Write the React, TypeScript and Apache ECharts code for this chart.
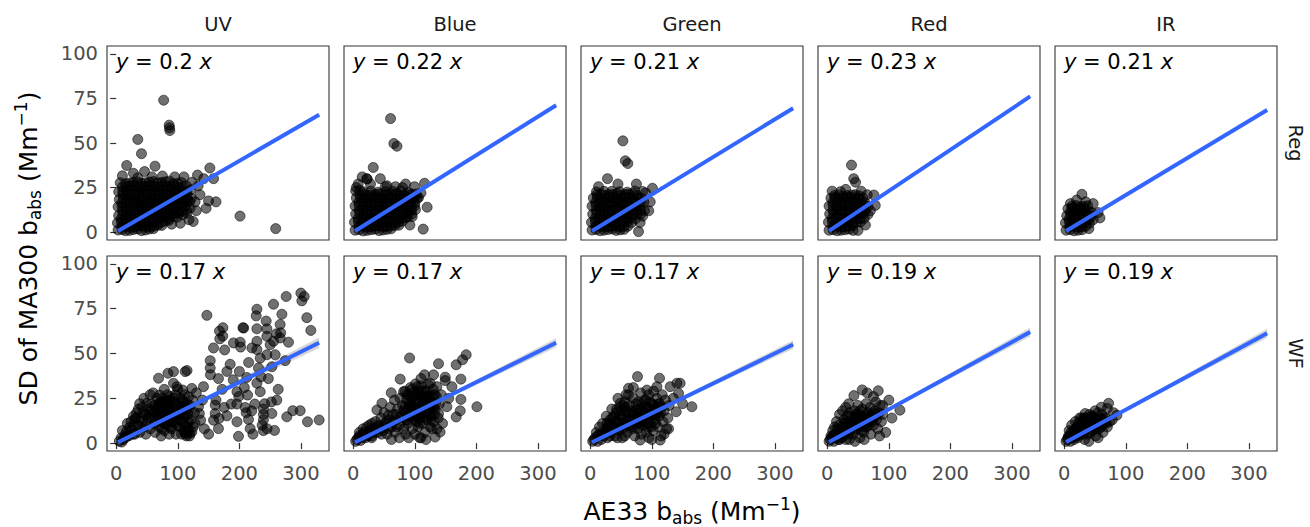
import React, { useEffect, useRef } from "react";
import * as echarts from "echarts";

const columns = ["UV", "Blue", "Green", "Red", "IR"];
const rowNames = ["Reg", "WF"];
const slopeText = [
  ["0.2", "0.22", "0.21", "0.23", "0.21"],
  ["0.17", "0.17", "0.17", "0.19", "0.19"],
];
const slopes = [
  [0.2, 0.216, 0.211, 0.231, 0.208],
  [0.17, 0.17, 0.167, 0.188, 0.186],
];
const slopeCI = [
  [0.0025, 0.003, 0.003, 0.003, 0.003],
  [0.009, 0.0075, 0.007, 0.0075, 0.0075],
];
const fitRange = [3, 329.5];
const xTicks = [0, 100, 200, 300];
const yTicks = [0, 25, 50, 75, 100];
const xLimits = [-15, 345.5];
const yLimits = [-4.4, 104.4];

const regUV = [
  [3,1.2],[15,0.8],[28,1.5],[41,0.9],[54,1.8],
  [2,5.2],[14,4.6],[27,5.4],[40,4.8],[53,5.6],[66,4.9],[79,6.1],
  [4,9.3],[17,9.8],[30,9.1],[43,10.2],[56,9.6],[69,9.9],[82,9.2],[95,10.4],[108,9.8],
  [3,14.2],[16,13.6],[29,14.5],[42,13.9],[55,14.8],[68,13.7],[81,14.4],[94,13.8],[107,14.6],[120,13.5],
  [5,18.3],[18,18.9],[31,18.1],[44,18.7],[57,18.2],[70,19.1],[83,18.4],[96,18.8],[109,18.1],[122,19.0],
  [4,22.6],[17,23.3],[30,22.8],[43,23.4],[56,22.7],[69,23.5],[82,22.9],[95,23.2],[108,22.6],[121,23.8],
  [15,27.2],[28,27.9],[41,27.4],[54,28.1],[67,27.6],[80,28.3],[93,27.1],[106,27.8],
  [9,3.1],[22,2.7],[35,3.4],[48,2.9],[61,3.3],[74,3.8],
  [8,7.4],[21,7.9],[34,7.2],[47,7.7],[60,7.3],[73,8.1],[86,7.6],[99,8.4],
  [10,12.1],[23,11.7],[36,12.3],[49,11.8],[62,12.4],[75,11.9],[88,12.2],[101,11.6],[114,12.5],
  [9,16.4],[22,16.9],[35,16.2],[48,16.7],[61,16.3],[74,16.8],[87,16.1],[100,16.6],[113,16.9],
  [11,21.2],[24,20.7],[37,21.4],[50,20.9],[63,21.3],[76,20.8],[89,21.5],[102,21.1],[115,20.6],
  [10,25.4],[23,25.9],[36,25.2],[49,25.8],[62,25.3],[75,25.7],[88,25.6],[101,25.1],[114,25.9],
  [9.5,1.5],[21.5,1],[34.5,1.8],[47.5,1.2],[60.5,2],
  [8.5,5.6],[20.5,5],[33.5,5.8],[46.5,5.1],[59.5,5.9],[72.5,5.3],[85.5,6.6],
  [10.5,9.6],[23.5,10.1],[36.5,9.4],[49.5,10.5],[62.5,9.9],[75.5,10.2],[88.5,9.5],[101.5,10.7],[114.5,10.6],
  [9.5,14.5],[22.5,13.9],[35.5,14.8],[48.5,14.2],[61.5,15.1],[74.5,14],[87.5,14.7],[100.5,14.1],[113.5,14.9],
  [11.5,18.6],[24.5,19.2],[37.5,18.4],[50.5,19],[63.5,18.5],[76.5,19.4],[89.5,18.7],[102.5,19.1],[115.5,18.4],
  [10.5,22.9],[23.5,23.6],[36.5,23.1],[49.5,23.7],[62.5,23],[75.5,23.8],[88.5,23.2],[101.5,23.5],[114.5,22.9],
  [21.5,27.5],[34.5,28.2],[47.5,27.7],[60.5,28.4],[73.5,27.9],[86.5,28.6],[99.5,27.4],
  [15.5,3.4],[28.5,3],[41.5,3.7],[54.5,3.2],[67.5,3.9],
  [14.5,7.7],[27.5,8.2],[40.5,7.5],[53.5,8],[66.5,7.6],[79.5,8.4],[92.5,8.9],
  [16.5,12.4],[29.5,12],[42.5,12.6],[55.5,12.1],[68.5,12.7],[81.5,12.2],[94.5,12.5],[107.5,11.9],
  [15.5,16.7],[28.5,17.2],[41.5,16.5],[54.5,17],[67.5,16.6],[80.5,17.1],[93.5,16.4],[106.5,16.9],[119.5,17.2],
  [17.5,21.5],[30.5,21],[43.5,21.7],[56.5,21.2],[69.5,21.6],[82.5,21.1],[95.5,21.8],[108.5,21.4],
  [16.5,25.7],[29.5,26.2],[42.5,25.5],[55.5,26.1],[68.5,25.6],[81.5,26],[94.5,25.9],[107.5,25.4],
  [6.5,27.7],[10,31.6],[28,33],[46,34],[17,37.4],[35,52],[41,44],[63,37],[77,74],[86,60],[87,57],[86.5,58.5],
  [123,28],[133,26],[136,21],[142,30],[150,17.5],[146,13.4],[152,36],[158,30],[162,17],[201,9],[259,2],
  [130,12],[125,6],[118,7],[110,31],[95,31],[75,31.5],[58,31],[35,30.5],[128,17],[132,32],[104,5],[90,4.5],
];

const regBlue = [
  [3,1.1],[16,0.7],[29,1.4],[42,0.9],[55,1.6],
  [2,5.6],[15,5.1],[28,5.8],[41,5.3],[54,5.9],[67,5.2],[80,6.2],
  [4,10.2],[17,9.7],[30,10.4],[43,9.8],[56,10.3],[69,9.6],[82,10.5],[95,10.1],
  [3,14.6],[16,14.1],[29,14.8],[42,14.3],[55,14.9],[68,14.2],[81,14.7],[94,14.4],
  [5,19.2],[18,18.7],[31,19.4],[44,18.9],[57,19.3],[70,18.6],[83,19.1],[96,18.8],[106,19.4],
  [4,23.1],[17,22.6],[40,22.4],[65,22.8],[90,22.2],
  [9,3.2],[22,2.8],[35,3.4],[48,2.9],[61,3.5],[74,3.9],
  [8,7.6],[21,7.2],[34,7.8],[47,7.3],[60,7.7],[73,7.4],[86,8.1],
  [10,12.2],[23,11.8],[36,12.4],[49,11.7],[62,12.3],[75,11.9],[88,12.1],[101,12.6],
  [9,16.7],[22,16.3],[35,16.8],[48,16.2],[61,16.6],[74,16.4],[87,16.9],[100,16.5],
  [11,21.1],[24,20.7],[37,21.2],[50,20.8],[63,21.3],[76,20.6],[89,21.0],[102,21.4],
  [9.5,1.4],[22.5,1],[35.5,1.7],[48.5,1.2],[61.5,1.9],
  [8.5,5.9],[21.5,5.4],[34.5,6.1],[47.5,5.6],[60.5,6.2],[73.5,5.5],
  [10.5,10.5],[23.5,10],[36.5,10.7],[49.5,10.1],[62.5,10.6],[75.5,9.9],[88.5,10.8],
  [9.5,14.9],[22.5,14.4],[35.5,15.1],[48.5,14.6],[61.5,15.2],[74.5,14.5],[87.5,15],[99.5,14.7],
  [11.5,19.5],[24.5,19],[37.5,19.7],[50.5,19.2],[63.5,19.6],[76.5,18.9],[89.5,19.4],[101,19.8],
  [10.5,23.4],[28.5,23],[52.5,22.7],[77.5,23.1],
  [15.5,3.5],[28.5,3.1],[41.5,3.7],[54.5,3.2],[67.5,3.8],
  [14.5,7.9],[27.5,7.5],[40.5,8.1],[53.5,7.6],[66.5,8],[79.5,7.7],
  [16.5,12.5],[29.5,12.1],[42.5,12.7],[55.5,12],[68.5,12.6],[81.5,12.2],[94.5,12.4],
  [15.5,17],[28.5,16.6],[41.5,17.1],[54.5,16.5],[67.5,16.9],[80.5,16.7],[93.5,17.2],
  [17.5,21.4],[30.5,21],[43.5,21.5],[56.5,21.1],[69.5,21.6],[82.5,20.9],[95.5,21.3],
  [60.6,63.7],[66,49.7],[71,48.2],[32.5,36.3],[14.6,31],[44,30],[68.7,25.5],[99.5,25.5],[115.8,27.4],
  [113.6,1.7],[95.8,8.7],[104,19],[8,27],[5,25],[28,27],[55,26],[80,25],[110,22],[92,4],[120,14],
  [52,25.5],[22,30],[85,27],[87.7,8.7],[22.7,29.8],
];

const regGreen = [
  [3,1.2],[16,0.8],[29,1.5],[42,1.0],[55,1.6],
  [2,5.5],[15,5.0],[28,5.7],[41,5.2],[54,5.8],[67,5.3],
  [4,10.1],[17,9.6],[30,10.3],[43,9.8],[56,10.4],[69,9.7],[82,10.2],
  [3,14.6],[16,14.1],[29,14.8],[42,14.2],[55,14.7],[68,14.3],[81,14.9],
  [5,19.1],[18,18.6],[31,19.3],[44,18.8],[57,19.2],[70,18.7],[83,19.0],
  [10,22.6],[35,22.9],[60,22.4],[85,22.8],
  [9,3.2],[22,2.8],[35,3.4],[48,2.9],[61,3.3],
  [8,7.6],[21,7.2],[34,7.8],[47,7.3],[60,7.7],[73,7.4],
  [10,12.2],[23,11.8],[36,12.4],[49,11.7],[62,12.3],[75,11.9],[88,12.1],
  [9,16.7],[22,16.3],[35,16.8],[48,16.2],[61,16.6],[74,16.4],[87,16.9],
  [11,21.1],[24,20.7],[37,21.2],[50,20.8],[63,21.3],[76,20.6],
  [9.5,1.5],[22.5,1.1],[35.5,1.8],[48.5,1.3],
  [8.5,5.8],[21.5,5.3],[34.5,6],[47.5,5.5],[60.5,6.1],
  [10.5,10.4],[23.5,9.9],[36.5,10.6],[49.5,10.1],[62.5,10.7],[75.5,10],
  [9.5,14.9],[22.5,14.4],[35.5,15.1],[48.5,14.5],[61.5,15],[74.5,14.6],
  [11.5,19.4],[24.5,18.9],[37.5,19.6],[50.5,19.1],[63.5,19.5],[76.5,19],
  [22.5,22.9],[47.5,22.7],[72.5,23.1],
  [15.5,3.5],[28.5,3.1],[41.5,3.7],[54.5,3.2],
  [14.5,7.9],[27.5,7.5],[40.5,8.1],[53.5,7.6],[66.5,8],
  [16.5,12.5],[29.5,12.1],[42.5,12.7],[55.5,12],[68.5,12.6],[81.5,12.4],
  [15.5,17],[28.5,16.6],[41.5,17.1],[54.5,16.5],[67.5,16.9],[80.5,16.7],
  [17.5,21.4],[30.5,21],[43.5,21.5],[56.5,21.1],[69.5,21.6],
  [53,51.2],[57,40],[61,38.5],[28,30],[13.5,25.5],[101,24.6],[97.4,17],[78.4,0.3],[81,5.4],
  [85,9],[75,27],[45,27],[90,22],[95,12],
];

const regRed = [
  [3,1.1],[16,0.8],[29,1.4],[42,1.0],
  [2,5.6],[15,5.1],[28,5.8],[41,5.2],[54,5.7],
  [4,10.2],[17,9.7],[30,10.4],[43,9.8],[56,10.3],[66,9.9],
  [3,14.6],[16,14.1],[29,14.8],[42,14.3],[55,14.7],[66,14.4],
  [6,19.1],[19,18.6],[32,19.3],[45,18.8],[58,19.2],
  [9,3.2],[22,2.8],[35,3.4],
  [8,7.6],[21,7.2],[34,7.8],[47,7.3],[60,7.7],
  [10,12.2],[23,11.8],[36,12.4],[49,11.7],[62,12.3],
  [9,16.7],[22,16.3],[35,16.8],[48,16.2],[61,16.6],
  [12,20.6],[26,20.2],[40,20.8],[52,20.4],
  [9.5,1.4],[22.5,1.1],[35.5,1.7],
  [8.5,5.9],[21.5,5.4],[34.5,6.1],[47.5,5.5],
  [10.5,10.5],[23.5,10],[36.5,10.7],[49.5,10.1],[60,10.6],
  [9.5,14.9],[22.5,14.4],[35.5,15.1],[48.5,14.6],[60.5,15],
  [12.5,19.4],[25.5,18.9],[38.5,19.6],[51.5,19.1],
  [15.5,3.5],[28.5,3.1],[41.5,3.7],
  [14.5,7.9],[27.5,7.5],[40.5,8.1],[53.5,7.6],
  [16.5,12.5],[29.5,12.1],[42.5,12.7],[55.5,12],
  [15.5,17],[28.5,16.6],[41.5,17.1],[54.5,16.5],
  [18.5,20.9],[32.5,20.5],[45.5,21],
  [39.4,37.6],[43,30],[46,28],[21.6,22.7],[75.8,20.8],[65,21],[8,23],[30,24],[55,23],[70,12],
  [62,4],[50,1],[78,15],
];

const regIR = [
  [3,1.1],[16,0.8],[29,1.4],
  [2,5.2],[15,4.8],[28,5.4],[41,5.0],
  [4,9.2],[17,8.8],[30,9.4],[43,9.0],
  [6,13.1],[19,12.7],[32,13.3],
  [9,3.1],[22,2.8],[35,3.3],
  [8,7.2],[21,6.8],[34,7.3],[47,7.0],
  [10,11.2],[23,10.8],[36,11.3],[45,11.0],
  [13,14.6],[26,14.2],[38,14.8],
  [9.5,1.4],[22.5,1.1],
  [8.5,5.5],[21.5,5.1],[34.5,5.7],
  [10.5,9.5],[23.5,9.1],[36.5,9.7],
  [12.5,13.4],[25.5,13],
  [15.5,3.4],[28.5,3.1],
  [14.5,7.5],[27.5,7.1],[40.5,7.3],
  [16.5,11.5],[29.5,11.1],[40,11.6],
  [19.5,14.9],[32,14.5],
  [28.7,21.2],[47,16],[55,11],[58,8],[20,18],[35,17],[10,16],[40,2],
];

const wfUV = [
  [9,0.6],[17,6.8],[28,10],[30.6,13.7],[49.6,22.2],[66,16.5],[70.3,26.8],[68.7,36.2],[84,39],[93,39.9],
  [112,39.9],[115,40.5],[93,33.4],[98.5,31.5],[108,29.6],[122.8,30.5],[117.4,25.9],[112,20.3],[117.4,11.9],
  [122.8,6.3],[120,5.5],[141.7,31.5],[147.2,71.3],[152.6,46],[152.6,41.9],[153,38.2],[160.7,21.2],[162,24],
  [166,8.1],[167.7,62.5],[168.2,58.2],[173.2,64.4],[173,59.7],[158,53.1],[160.7,16.5],[179.7,40],[175.3,19.9],
  [179.7,15.2],[186.7,21.8],[195.8,21.8],[198.5,3.8],[196,11.9],[196,28.7],[199,26],[201.3,56.3],[202,53.6],
  [205.7,64.4],[207,64.2],[209.4,19.9],[211,17],[214.8,13.2],[213.2,26.8],[217.5,8.1],[220.3,53.1],[228.4,74.7],
  [227.3,71],[228.4,63.8],[228.4,56.8],[228.4,52.2],[228.4,33.4],[225,21.8],[220,18],[231,41.9],[233.8,47.4],
  [233.8,28.7],[239,13],[239,16],[239,19],[241,22],[237,10],[239,7],[243.5,68.1],[244.6,59.6],[244.6,49.3],
  [244.6,63.8],[250,54.9],[252.7,42.6],[255.4,77.5],[255.4,56.8],[258.1,49.3],[260.8,24],[252,23],[252.7,16.5],
  [257,7.1],[266.2,66.2],[266.2,58.7],[267,61.6],[269,71.9],[274.4,46],[276,81.8],[277,14.7],[279.7,56.3],
  [286.7,18.1],[298.7,18.1],[299.8,83.7],[301.4,79.4],[305.2,81.8],[309.5,70],[310.6,11.9],[316,62.9],[329.5,12.9],
  [190.4,55.9],[190,35.3],[212,36.6],[133.6,20.3],[135,16.5],[137,12.8],[158,12.8],[167,13.8],[150,5],[128,11],
  [140,24],[172,30],[185,44],[200,40],[215,45],[235,37],[247,36],[263,30],[245,8],[222,5],[176,52],[143,8],
  [166,36],[208,31],[260,61],
  [5,1],[8,3],[12,2],[15,5],[10,7],[20,4],[22,9],[18,11],[25,7],[30,5],[28,15],[35,10],[33,17],[38,6],[40,14],
  [42,20],[45,9],[47,16],[50,12],[48,5],[52,19],[55,8],[56,14],[58,22],[60,17],[62,11],[63,6],[65,20],[66,25],
  [68,14],[70,9],[71,18],[72,22],[73,4],[74,12],[75,25],[76,16],[77,20],[78,7],[79,23],[80,13],[81,18],[82,24],
  [83,10],[84,15],[85,21],[86,5],[87,26],[88,12],[89,18],[90,8],[91,23],[92,15],[94,20],[95,11],[96,27],[97,5],
  [98,17],[100,13],[101,22],[103,9],[104,25],[105,16],[106,5],[108,19],[110,11],[111,27],[112,6],[113,15],
  [115,22],[116,9],[118,18],[119,4],[121,13],[124,24],[125,9],[127,17],[130,28],[60,28],[45,25],[38,22],[55,27],
  [78,30],[100,30],[73,23],[75,20],[80,19],[77,14],[84,22],[79,17],[86,24],[81,21],[112,5],[114,4],[110,7],
  [24,12],[32,14],[36,19],[44,17],[52,14],[57,18],[62,21],[67,19],[70,15],[85,18],[90,12],[93,25],[102,16],
  [106,20],[109,23],[117,16],
  [67,12],[69,22],[72,17],[74,8],[76,23],[79,11],[82,16],[83,27],[86,19],[88,9],[91,17],[93,13],[96,22],
  [99,10],[102,19],[104,13],[107,24],[109,15],[112,9],[114,19],[117,7],[120,21],[43,12],[53,16],[39,9],
  [27,5],[18,4],[13,3],
];

const wfBlue = [
  [91.5,47.5],[138.5,44.3],[183.4,49.3],[177.5,46.5],[167.2,43.7],[76.3,35.7],[115.8,38.1],[130.4,38.1],
  [149.4,36.8],[149.4,34.9],[174.8,35.7],[61.7,28.1],[81.7,28.7],[104.4,31.5],[125,33.4],[135.8,31.5],
  [160.2,31.5],[174.8,24.4],[173.7,18],[200.8,20.3],[167.2,14.6],[152,20.3],[138.5,16.5],[107.7,3],[133,3.4],
  [141,6.2],[145,11],[46.6,22.2],[38.5,18.5],[30.4,11],[57.3,15.6],[70.9,9],[87.2,12.8],[92.5,20.3],[120,26],
  [110,36],[95,30],[143,27],[155,25],[128,8],[118,2],[100,5],
  [4,1],[8,3],[12,1.5],[15,5],[20,3],[10,6],[25,6],[22,9],[30,4],[32,8],[36,12],[40,6],[42,10],[45,14],[48,7],
  [50,17],[52,11],[55,5],[58,13],[60,20],[62,9],[65,16],[67,24],[68,6],[70,13],[72,19],[75,10],[76,25],[78,15],
  [80,21],[82,8],[84,29],[85,17],[87,24],[88,11],[90,27],[92,15],[93,31],[95,21],[96,8],[98,26],[100,13],
  [101,33],[102,18],[104,24],[105,9],[106,29],[108,14],[109,20],[110,32],[112,25],[113,11],[115,17],[116,29],
  [117,6],[118,22],[120,13],[121,33],[122,19],[124,27],[125,9],[126,15],[128,23],[130,30],[131,12],[133,19],
  [135,26],[136,8],[138,14],[140,22],[90,3],[75,3],[62,2],[110,3],[85,5],
  [82,18],[86,13],[90,19],[94,25],[97,14],[99,20],[103,27],[106,15],[107,22],[111,18],[114,26],[117,14],
  [119,21],[123,16],[127,19],[129,26],[132,16],[134,22],[103,12],[111,29],[120,29],[96,17],[91,22],[108,11],
  [125,22],[6,2],[10,4],[14,3],[18,6],[24,4],[28,7],[34,6],[38,9],[44,8],[50,9],[54,12],[26,10],[16,8],
  [81,14],[84,20],[87,27],[89,15],[92,21],[95,18],[97,28],[100,23],[102,15],[105,19],[108,27],[110,16],
  [113,21],[116,24],[118,17],[121,26],[124,20],[127,13],[130,20],[132,27],[58,8],[64,12],[70,16],[46,5],[30,3],
];

const wfGreen = [
  [76.8,37.1],[112.5,36.2],[62.2,30.6],[140.7,33.4],[146,33.4],[129.9,31.5],[143.4,27.7],[165,20.3],
  [139.6,17.5],[127.2,8],[113.6,1.7],[81.2,1.7],[48.7,22.2],[92,29.6],[108.2,31.5],[62,26.8],[150,22],
  [135,25],[120,5],[100,2],
  [4,1],[8,3],[12,1],[15,5],[18,2],[10,6],[22,4],[25,8],[28,3],[30,11],[33,6],[36,14],[38,9],[40,4],[42,17],
  [44,12],[46,7],[48,20],[50,15],[52,3],[54,10],[56,23],[58,18],[60,6],[62,13],[64,21],[66,9],[68,16],[70,25],
  [72,4],[73,12],[75,19],[77,8],[78,23],[80,14],[82,28],[83,5],[85,18],[86,10],[88,24],[90,14],[91,6],[93,20],
  [95,27],[96,11],[98,16],[100,22],[102,7],[103,29],[105,13],[107,19],[108,25],[110,9],[112,15],[113,22],
  [115,4],[117,27],[118,12],[120,18],[122,24],[124,8],[126,14],[128,21],[95,3],[70,31],[58,27],[45,25],
  [35,19],[26,15],[20,11],[15,9],
  [24,6],[30,7],[35,9],[41,8],[46,11],[52,8],[55,14],[60,10],[65,13],[68,8],[71,17],[74,10],[79,17],[82,11],
  [87,15],[89,20],[94,16],[97,23],[101,14],[104,18],[109,17],[111,22],[116,20],[62,17],[57,20],[76,14],
  [84,22],[92,11],[99,9],[106,11],[48,15],[40,12],[28,9],[18,5],[12,4],[6,2],
  [27,11],[32,13],[38,15],[43,19],[47,9],[51,18],[54,21],[58,12],[63,10],[67,18],[71,13],[74,22],[78,11],
  [81,19],[85,13],[88,17],[91,24],[94,9],[97,19],[100,16],[103,21],[106,16],[110,20],[114,17],[32,4],[44,3],[56,4],
];

const wfRed = [
  [56.8,29.7],[43.3,26.5],[82.8,29.2],[100,24],[118,18.4],[65,28],[75,26],[35,22],[90,21],[105,14],[95,6],
  [3,1],[7,3],[11,1],[14,5],[18,2],[9,7],[21,6],[24,3],[26,9],[29,5],[31,12],[34,8],[36,2],[38,15],[40,10],
  [42,5],[44,18],[46,13],[48,8],[50,21],[52,16],[53,3],[55,11],[57,19],[59,6],[61,14],[63,22],[64,9],[66,17],
  [68,12],[70,20],[71,5],[73,15],[75,10],[77,18],[79,23],[80,13],[82,8],[84,17],[86,21],[88,12],[90,16],
  [15,12],[20,16],[25,18],[30,20],[12,9],[60,2],[85,4],[45,1],
  [5,2],[9,4],[13,3],[17,6],[22,5],[26,6],[30,8],[33,11],[37,7],[41,12],[45,10],[49,13],[51,9],[54,15],
  [58,12],[62,11],[65,14],[69,15],[72,12],[76,14],[27,13],[36,17],[46,16],[56,7],[78,16],
  [6,4],[10,3],[16,8],[19,10],[23,8],[28,11],[32,15],[35,5],[39,12],[43,7],[47,15],[50,11],[53,18],[56,14],
  [60,9],[63,16],[67,10],[70,13],[74,17],[20,2],[30,2],
];

const wfIR = [
  [72,22.2],[70,19.4],[34,16.5],[85.5,15.6],[80,17],[60,20],[50,18],
  [3,1],[6,3],[10,1],[13,5],[16,2],[8,7],[19,6],[22,3],[24,9],[27,5],[29,12],[31,8],[33,2],[35,14],[37,10],
  [39,5],[41,16],[43,12],[45,7],[47,15],[49,10],[51,4],[53,13],[55,17],[57,8],[59,12],[61,16],[63,6],[65,11],
  [67,14],[70,9],[74,12],[12,10],[18,12],[25,14],[40,1],[55,3],[78,13],
  [5,2],[9,4],[14,3],[18,8],[21,9],[26,7],[30,10],[34,11],[38,13],[42,9],[46,12],[50,13],[54,10],[58,14],
  [62,13],[44,15],[32,14],[15,7],
  [7,4],[11,6],[15,4],[20,4],[23,11],[27,10],[31,5],[35,9],[39,11],[43,6],[47,10],[52,8],[56,12],[60,9],
  [64,14],[68,11],[28,14],[48,14],
];

const panelData = [
  [regUV, regBlue, regGreen, regRed, regIR],
  [wfUV, wfBlue, wfGreen, wfRed, wfIR],
];

const FONT = "DejaVu Sans";
const panelLeft0 = 107;
const panelStep = 237;
const panelW = 222;
const rowTop = [46, 256];
const rowH = [194, 195];

export default function App() {
  const ref = useRef<HTMLDivElement>(null);
  useEffect(() => {
    const chart = echarts.init(ref.current!, null, { renderer: "svg" });
    const grids: any[] = [];
    const xAxes: any[] = [];
    const yAxes: any[] = [];
    const series: any[] = [];
    const graphics: any[] = [];
    let idx = 0;
    for (let r = 0; r < 2; r++) {
      for (let c = 0; c < 5; c++) {
        const left = panelLeft0 + panelStep * c;
        grids.push({
          left, top: rowTop[r], width: panelW, height: rowH[r],
          show: true, borderColor: "#333333", borderWidth: 1.1, backgroundColor: "#ffffff",
        });
        xAxes.push({
          gridIndex: idx, type: "value", min: xLimits[0], max: xLimits[1],
          axisLine: { show: false }, splitLine: { show: false },
          axisTick: { show: r === 1, length: 6, customValues: xTicks, lineStyle: { color: "#333333", width: 1.2 } },
          axisLabel: { show: r === 1, customValues: xTicks, margin: 12, fontSize: 19.5, color: "#4D4D4D", fontFamily: FONT },
        });
        yAxes.push({
          gridIndex: idx, type: "value", min: yLimits[0], max: yLimits[1],
          axisLine: { show: false }, splitLine: { show: false },
          axisTick: { show: c === 0, length: 6, customValues: yTicks, lineStyle: { color: "#333333", width: 1.2 } },
          axisLabel: { show: c === 0, customValues: yTicks, margin: 9, fontSize: 19.5, color: "#4D4D4D", fontFamily: FONT },
        });
        series.push({
          type: "scatter", xAxisIndex: idx, yAxisIndex: idx, data: panelData[r][c],
          symbolSize: 10, silent: true, clip: true,
          itemStyle: { color: "rgba(0,0,0,0.56)", borderColor: "rgba(0,0,0,0.56)", borderWidth: 1, opacity: 1 },
        });
        const k = slopes[r][c];
        const ci = slopeCI[r][c];
        const x0 = fitRange[0], x1 = fitRange[1];
        series.push({
          type: "custom", xAxisIndex: idx, yAxisIndex: idx, silent: true,
          data: [[x0, (k - ci) * x0, (k + ci) * x0, x1, (k - ci) * x1, (k + ci) * x1]],
          renderItem: (_p: any, api: any) => {
            const pts = [
              api.coord([api.value(0), api.value(1)]),
              api.coord([api.value(3), api.value(4)]),
              api.coord([api.value(3), api.value(5)]),
              api.coord([api.value(0), api.value(2)]),
            ];
            return { type: "polygon", shape: { points: pts }, style: { fill: "rgba(153,153,153,0.4)" } };
          },
        });
        series.push({
          type: "line", xAxisIndex: idx, yAxisIndex: idx, silent: true, symbol: "none",
          data: [[x0, k * x0], [x1, k * x1]],
          lineStyle: { color: "#3366FF", width: 4 },
        });
        graphics.push({
          type: "text", x: left + 9, y: rowTop[r] + 16, silent: true,
          style: {
            text: `{i|y} = ${slopeText[r][c]} {i|x}`,
            fontSize: 21, fontFamily: FONT, fill: "#000000",
            align: "left", verticalAlign: "middle", textAlign: "left", textVerticalAlign: "middle",
            rich: { i: { fontStyle: "italic", fontSize: 21, fontFamily: FONT, fill: "#000000" } },
          },
        });
        if (r === 0) {
          graphics.push({
            type: "text", x: left + panelW / 2, y: 24, silent: true,
            style: {
              text: columns[c], fontSize: 19.5, fontFamily: FONT, fill: "#1A1A1A",
              align: "center", verticalAlign: "middle", textAlign: "center", textVerticalAlign: "middle",
            },
          });
        }
        idx++;
      }
      graphics.push({
        type: "text", x: 1295, y: rowTop[r] + rowH[r] / 2, rotation: -Math.PI / 2, silent: true,
        style: {
          text: rowNames[r], fontSize: 19.5, fontFamily: FONT, fill: "#1A1A1A",
          align: "center", verticalAlign: "middle", textAlign: "center", textVerticalAlign: "middle",
        },
      });
    }
    const titleRich = {
      m: { fontSize: 25, lineHeight: 31, fontFamily: FONT, fill: "#000000", verticalAlign: "middle" },
      s: { fontSize: 17, lineHeight: 17, fontFamily: FONT, fill: "#000000", verticalAlign: "bottom" },
      p: { fontSize: 17, lineHeight: 17, fontFamily: FONT, fill: "#000000", verticalAlign: "top" },
    };
    graphics.push({
      type: "text", x: 692, y: 511.3, silent: true,
      style: {
        text: "{m|AE33 b}{s|abs}{m| (Mm}{p|\u22121}{m|)}",
        rich: titleRich, fontFamily: FONT, fontSize: 25,
        align: "center", verticalAlign: "middle", textAlign: "center", textVerticalAlign: "middle",
      },
    });
    graphics.push({
      type: "text", x: 28.4, y: 248.5, rotation: Math.PI / 2, silent: true,
      style: {
        text: "{m|SD of MA300 b}{s|abs}{m| (Mm}{p|\u22121}{m|)}",
        rich: titleRich, fontFamily: FONT, fontSize: 25,
        align: "center", verticalAlign: "middle", textAlign: "center", textVerticalAlign: "middle",
      },
    });

    chart.setOption({
      animation: false,
      backgroundColor: "#ffffff",
      grid: grids,
      xAxis: xAxes,
      yAxis: yAxes,
      series,
      graphic: { elements: graphics },
    });
    return () => chart.dispose();
  }, []);
  return (
    <div
      ref={ref}
      style={{ position: "absolute", left: 0, top: 0, width: 1310, height: 527, background: "#ffffff" }}
    />
  );
}
